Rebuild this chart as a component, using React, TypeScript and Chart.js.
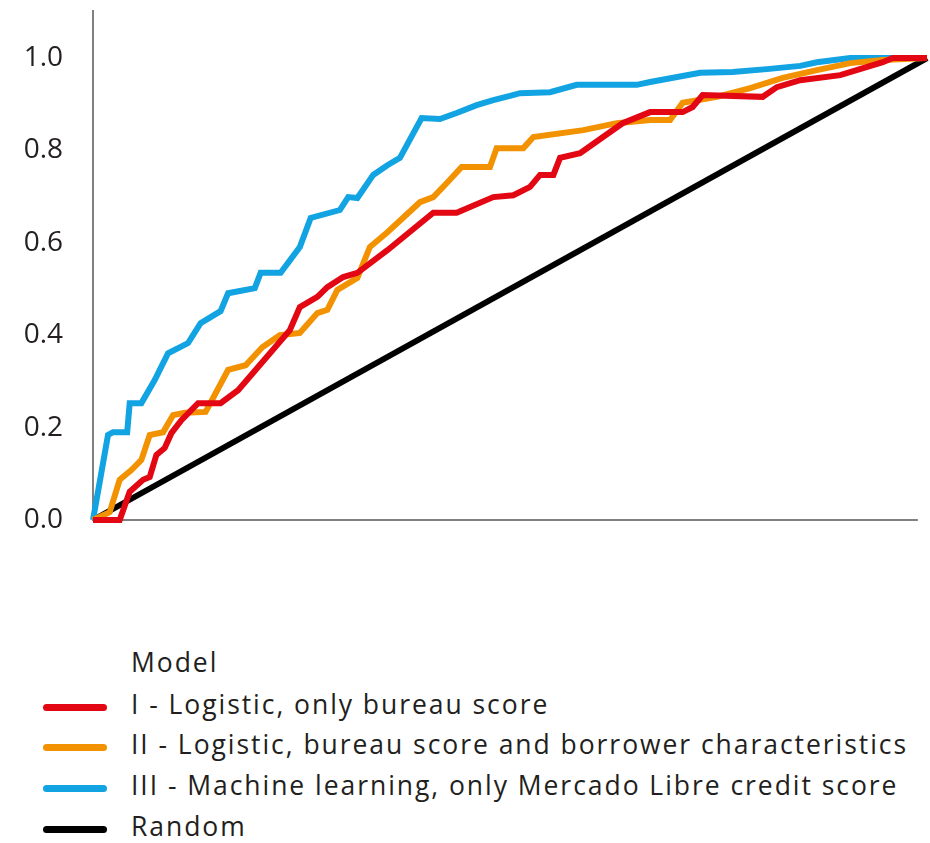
import React, { useEffect, useRef } from "react";
import { Chart, registerables } from "chart.js";

Chart.register(...registerables);

// ---- Data (false positive rate / true positive rate) ----
const fprI = [0, 0.032, 0.044, 0.06, 0.068, 0.076, 0.086, 0.094, 0.106, 0.126, 0.153, 0.174, 0.236, 0.248, 0.269, 0.281, 0.3, 0.317, 0.353, 0.408, 0.436, 0.48, 0.504, 0.524, 0.536, 0.552, 0.56, 0.584, 0.635, 0.668, 0.707, 0.719, 0.731, 0.803, 0.82, 0.848, 0.896, 0.947, 0.959, 1.0];
const tprI = [0, 0, 0.061, 0.087, 0.093, 0.141, 0.156, 0.188, 0.216, 0.253, 0.253, 0.281, 0.411, 0.461, 0.483, 0.504, 0.526, 0.535, 0.584, 0.665, 0.665, 0.699, 0.703, 0.721, 0.747, 0.747, 0.784, 0.794, 0.859, 0.883, 0.883, 0.894, 0.92, 0.916, 0.937, 0.952, 0.963, 0.991, 1.0, 1.0];

const fprII = [0, 0.02, 0.032, 0.046, 0.058, 0.068, 0.084, 0.096, 0.11, 0.135, 0.144, 0.162, 0.183, 0.203, 0.224, 0.248, 0.269, 0.281, 0.293, 0.317, 0.332, 0.353, 0.392, 0.408, 0.424, 0.442, 0.476, 0.484, 0.516, 0.528, 0.588, 0.628, 0.668, 0.692, 0.707, 0.748, 0.788, 0.827, 0.868, 0.908, 0.947, 1.0];
const tprII = [0, 0.017, 0.087, 0.108, 0.13, 0.184, 0.19, 0.227, 0.232, 0.234, 0.264, 0.325, 0.335, 0.374, 0.4, 0.405, 0.448, 0.455, 0.498, 0.524, 0.591, 0.623, 0.688, 0.699, 0.729, 0.764, 0.764, 0.805, 0.805, 0.829, 0.844, 0.859, 0.866, 0.866, 0.903, 0.916, 0.935, 0.957, 0.974, 0.989, 0.996, 1.0];

const fprIII = [0, 0.018, 0.024, 0.041, 0.044, 0.058, 0.074, 0.09, 0.114, 0.129, 0.153, 0.162, 0.194, 0.201, 0.225, 0.248, 0.261, 0.296, 0.306, 0.317, 0.336, 0.353, 0.368, 0.394, 0.416, 0.436, 0.46, 0.48, 0.5, 0.512, 0.548, 0.58, 0.652, 0.668, 0.728, 0.767, 0.808, 0.848, 0.868, 0.908, 1.0];
const tprIII = [0, 0.184, 0.19, 0.19, 0.253, 0.253, 0.303, 0.361, 0.383, 0.426, 0.452, 0.491, 0.502, 0.535, 0.535, 0.591, 0.654, 0.671, 0.699, 0.697, 0.747, 0.768, 0.784, 0.87, 0.868, 0.881, 0.898, 0.909, 0.918, 0.924, 0.926, 0.942, 0.942, 0.948, 0.968, 0.97, 0.976, 0.983, 0.991, 1.0, 1.0];

const fprRandom = [0, 1];
const tprRandom = [0, 1];

const seriesLabels = [
  "I - Logistic, only bureau score",
  "II - Logistic, bureau score and borrower characteristics",
  "III - Machine learning, only Mercado Libre credit score",
  "Random",
];
const seriesColors = ["#e30613", "#f39200", "#12a3e3", "#000000"];
const legendTitle = "Model";

const yTickValues = [0, 0.2, 0.4, 0.6, 0.8, 1.0];
const yMax = 1.104;
const xAxisEnd = 0.989;

const toPoints = (xs: number[], ys: number[]) => xs.map((x, i) => ({ x, y: ys[i] }));

const TEXT = "#231f20";
const FONT = "'Open Sans', 'Noto Sans', sans-serif";

const axisLines = {
  id: "axisLines",
  beforeDatasetsDraw(chart: any) {
    const { ctx, chartArea, scales } = chart;
    const xEnd = scales.x.getPixelForValue(xAxisEnd);
    ctx.save();
    ctx.strokeStyle = "#808080";
    ctx.lineWidth = 2;
    ctx.beginPath();
    ctx.moveTo(chartArea.left, chartArea.top);
    ctx.lineTo(chartArea.left, chartArea.bottom);
    ctx.lineTo(xEnd, chartArea.bottom);
    ctx.stroke();
    ctx.restore();
  },
};

export default function App() {
  const ref = useRef<HTMLCanvasElement | null>(null);

  useEffect(() => {
    if (!ref.current) return;
    const series = [
      toPoints(fprI, tprI),
      toPoints(fprII, tprII),
      toPoints(fprIII, tprIII),
      toPoints(fprRandom, tprRandom),
    ];
    const chart = new Chart(ref.current, {
      type: "scatter",
      data: {
        datasets: series.map((d, i) => ({
          label: seriesLabels[i],
          data: d,
          showLine: true,
          borderColor: seriesColors[i],
          backgroundColor: seriesColors[i],
          borderWidth: 6,
          pointRadius: 0,
          pointHoverRadius: 0,
          tension: 0,
          clip: false as any,
          borderJoinStyle: "miter" as const,
        })),
      },
      options: {
        responsive: false,
        animation: false,
        layout: { padding: { top: 10, right: 3, bottom: 20, left: 0 } },
        plugins: {
          legend: { display: false },
          tooltip: { enabled: false },
        },
        scales: {
          x: {
            type: "linear",
            min: 0,
            max: 1,
            display: false,
          },
          y: {
            type: "linear",
            min: 0,
            max: yMax,
            grid: { display: false, drawTicks: false },
            border: { display: false },
            afterFit: (s: any) => {
              s.width = 93;
              s.paddingTop = 0;
              s.paddingBottom = 0;
            },
            afterBuildTicks: (s: any) => {
              s.ticks = yTickValues.map((v) => ({ value: v }));
            },
            ticks: {
              padding: 30,
              color: TEXT,
              font: { family: FONT, size: 28 },
              callback: (v: any) => Number(v).toFixed(1),
            },
          },
        },
      },
      plugins: [axisLines],
    });
    return () => chart.destroy();
  }, []);

  const rowCenters = [707, 747, 788, 829];
  const textStyle = { position: "absolute" as const, left: 131, height: 41, lineHeight: "41px", fontSize: 26.5, letterSpacing: "1.95px", whiteSpace: "nowrap" as const };

  return (
    <div style={{ position: "absolute", left: 0, top: 0, width: 930, height: 843, background: "#fff", fontFamily: FONT, color: TEXT }}>
      <canvas ref={ref} width={930} height={540} style={{ position: "absolute", left: 0, top: 0 }} />
      <div style={{ ...textStyle, top: 642 }}>{legendTitle}</div>
      {seriesLabels.map((lab, i) => (
        <div key={lab}>
          <div style={{ position: "absolute", left: 43, top: rowCenters[i] - 3.5, width: 64, height: 7, borderRadius: 3.5, background: seriesColors[i] }} />
          <div style={{ ...textStyle, top: rowCenters[i] - 23 }}>{lab}</div>
        </div>
      ))}
    </div>
  );
}
